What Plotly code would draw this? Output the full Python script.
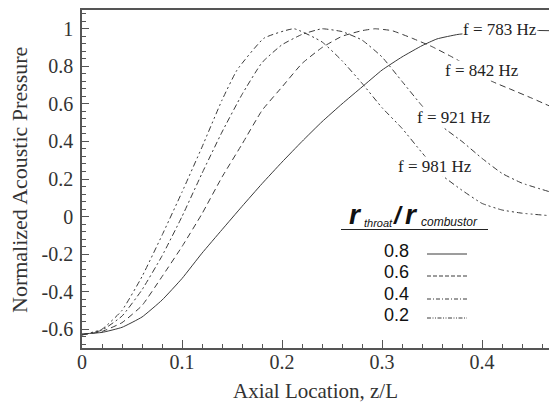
import plotly.graph_objects as go

# ---------------- data ----------------
x_08 = [0, 0.02, 0.04, 0.06, 0.08, 0.10, 0.12, 0.14, 0.16, 0.18, 0.20, 0.22, 0.24,
        0.26, 0.28, 0.30, 0.32, 0.34, 0.355, 0.376, 0.40, 0.42, 0.44, 0.467]
y_08 = [-0.625, -0.617, -0.59, -0.535, -0.445, -0.33, -0.195, -0.07, 0.054, 0.175,
        0.29, 0.40, 0.505, 0.60, 0.69, 0.78, 0.85, 0.91, 0.946, 0.97, 0.982, 0.99,
        0.992, 0.99]

x_06 = [0, 0.02, 0.04, 0.06, 0.08, 0.10, 0.12, 0.14, 0.16, 0.18, 0.20, 0.22, 0.24,
        0.26, 0.28, 0.293, 0.31, 0.33, 0.35, 0.37, 0.39, 0.41, 0.43, 0.45, 0.467]
y_06 = [-0.63, -0.612, -0.565, -0.474, -0.32, -0.16, 0.015, 0.21, 0.385, 0.565,
        0.69, 0.815, 0.90, 0.96, 0.99, 1.0, 0.99, 0.95, 0.905, 0.85, 0.79, 0.72,
        0.675, 0.63, 0.59]

x_04 = [0, 0.02, 0.04, 0.06, 0.08, 0.10, 0.12, 0.14, 0.16, 0.18, 0.20, 0.22, 0.24,
        0.26, 0.28, 0.30, 0.32, 0.34, 0.36, 0.38, 0.40, 0.42, 0.44, 0.467]
y_04 = [-0.63, -0.605, -0.53, -0.39, -0.21, 0.0, 0.23, 0.45, 0.65, 0.82, 0.915,
        0.97, 1.0, 0.985, 0.94, 0.85, 0.72, 0.59, 0.48, 0.40, 0.31, 0.23, 0.178, 0.133]

x_02 = [0, 0.02, 0.04, 0.06, 0.08, 0.10, 0.12, 0.14, 0.155, 0.182, 0.212, 0.24,
        0.26, 0.28, 0.30, 0.32, 0.34, 0.36, 0.38, 0.40, 0.42, 0.44, 0.467]
y_02 = [-0.63, -0.60, -0.50, -0.32, -0.10, 0.13, 0.37, 0.62, 0.78, 0.95, 1.0, 0.93,
        0.83, 0.71, 0.58, 0.47, 0.34, 0.22, 0.14, 0.07, 0.035, 0.018, 0.005]

freq_labels = ["f = 783 Hz", "f = 842 Hz", "f = 921 Hz", "f = 981 Hz"]
freq_x = [0.4175, 0.40, 0.372, 0.353]
freq_y = [0.996, 0.78, 0.526, 0.267]

ratio_labels = ["0.8", "0.6", "0.4", "0.2"]

x_tickvals = [0, 0.1, 0.2, 0.3, 0.4]
x_ticktext = ["0", "0.1", "0.2", "0.3", "0.4"]
y_tickvals = [-0.6, -0.4, -0.2, 0, 0.2, 0.4, 0.6, 0.8, 1.0]
y_ticktext = ["-0.6", "-0.4", "-0.2", "0", "0.2", "0.4", "0.6", "0.8", "1"]

# ---------------- style ----------------
LINE_COLOR = "#3a3a3a"
AX_COLOR = "#555555"
SERIF = "Liberation Serif"
SANS = "Liberation Sans"
dashes = ["solid", "6px,4px", "6px,3px,2px,3px", "6px,3px,2px,3px,2px,3px"]
legend_dashes = ["solid", "4px,2px", "4px,2px,1px,2px", "4px,1.5px,1px,1.5px,1px,1.5px"]

W, H = 549, 402
ML, MR, MT, MB = 82, 0, 10, 54
PW, PH = W - ML - MR, H - MT - MB


def px(xp):
    return (xp - ML) / PW


def py(yp):
    return (H - MB - yp) / PH


fig = go.Figure()
series = [(x_08, y_08), (x_06, y_06), (x_04, y_04), (x_02, y_02)]
for (xs, ys), d, name in zip(series, dashes, ratio_labels):
    fig.add_trace(go.Scatter(x=xs, y=ys, mode="lines", name=name,
                             line=dict(color=LINE_COLOR, width=1, dash=d),
                             line_shape="spline", line_smoothing=0.4,
                             showlegend=False))

annotations = []
for t, xx, yy in zip(freq_labels, freq_x, freq_y):
    annotations.append(dict(x=xx, y=yy, xref="x", yref="y", text=t, showarrow=False,
                            xanchor="center", yanchor="middle",
                            font=dict(family=SERIF, size=17, color="#222"),
                            bgcolor="white", borderpad=0))


def ann(xp, yp, text, size, family=SANS, xanchor="center", color="#111", **kw):
    d = dict(x=px(xp), y=py(yp), xref="paper", yref="paper", text=text,
             showarrow=False, xanchor=xanchor, yanchor="middle",
             font=dict(family=family, size=size, color=color))
    d.update(kw)
    return d


# legend title pieces
annotations += [
    ann(364, 214, "<b><i>r</i></b>", 28, xanchor="right"),
    ann(362, 223, "<i>throat</i>", 11, xanchor="left"),
    ann(398, 215, "<b><i>/</i></b>", 24),
    ann(420, 214, "<b><i>r</i></b>", 28, xanchor="right"),
    ann(419, 222, "<i>combustor</i>", 12, xanchor="left"),
]

legend_text_y = [251, 272, 294, 315]
legend_line_y = [254, 276, 299, 318]
shapes = [dict(type="line", xref="paper", yref="paper", x0=px(341), x1=px(488),
               y0=py(229.5), y1=py(229.5), line=dict(color="#222", width=1))]
for lab, ty, ly, d in zip(ratio_labels, legend_text_y, legend_line_y, legend_dashes):
    annotations.append(ann(411, ty, lab, 18, xanchor="right"))
    shapes.append(dict(type="line", xref="paper", yref="paper", x0=px(427), x1=px(467),
                       y0=py(ly), y1=py(ly), line=dict(color=LINE_COLOR, width=1, dash=d)))

# axis titles
annotations += [
    ann(315.5, 391, "Axial Location, z/L", 21, family=SERIF, color="#333"),
    ann(19, 180, "Normalized Acoustic Pressure", 22, family=SERIF, color="#333",
        textangle=-90),
]

fig.update_layout(
    width=W, height=H,
    margin=dict(l=ML, r=MR, t=MT, b=MB, pad=0),
    paper_bgcolor="white", plot_bgcolor="white",
    annotations=annotations, shapes=shapes,
    showlegend=False,
)
fig.update_xaxes(range=[0, 0.467], showgrid=False, zeroline=False,
                 showline=True, linecolor=AX_COLOR, linewidth=1.5, mirror=True,
                 tickmode="array", tickvals=x_tickvals, ticktext=x_ticktext,
                 ticks="inside", ticklen=8, tickcolor=AX_COLOR, tickwidth=1,
                 ticklabelstandoff=-5,
                 tickfont=dict(family=SERIF, size=20, color="#333"),
                 minor=dict(tickmode="linear", tick0=0, dtick=0.02, ticks="inside",
                            ticklen=4, tickcolor=AX_COLOR, tickwidth=1))
fig.update_yaxes(range=[-0.7, 1.1], showgrid=False, zeroline=False,
                 showline=True, linecolor=AX_COLOR, linewidth=1.5, mirror=False,
                 tickmode="array", tickvals=y_tickvals, ticktext=y_ticktext,
                 ticks="inside", ticklen=7, tickcolor=AX_COLOR, tickwidth=1,
                 ticklabelstandoff=3,
                 tickfont=dict(family=SERIF, size=20, color="#333"),
                 minor=dict(tickmode="linear", tick0=0, dtick=0.04, ticks="inside",
                            ticklen=4, tickcolor=AX_COLOR, tickwidth=1))

fig.write_html("out.html")
